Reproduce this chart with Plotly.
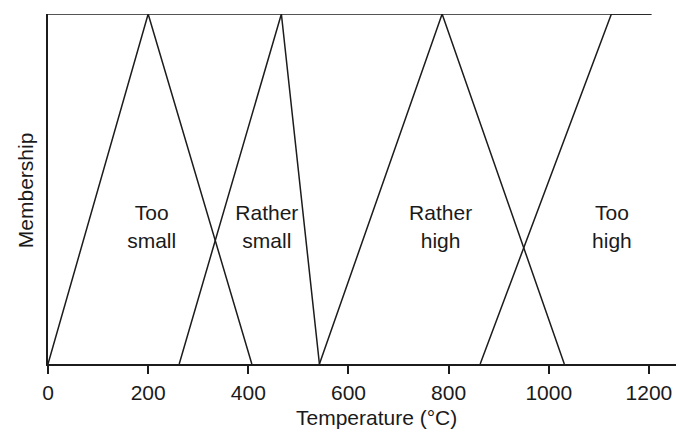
import plotly.graph_objects as go

# Membership function breakpoints (temperature, °C) and membership values
too_small_x = [0, 200, 407]
too_small_y = [0, 1, 0]
rather_small_x = [262, 466, 542]
rather_small_y = [0, 1, 0]
rather_high_x = [542, 787, 1031]
rather_high_y = [0, 1, 0]
too_high_x = [863, 1125, 1205]
too_high_y = [0, 1, 1]
top_x = [0, 1205]
top_y = [1, 1]
dash_x = [1255, 1270]
dash_y = [1, 1]

label_text = ["Too<br>small", "Rather<br>small", "Rather<br>high", "Too<br>high"]
label_x = [207, 437, 784, 1126]
label_y = [0.386, 0.386, 0.386, 0.386]

tick_vals = [0, 200, 400, 600, 800, 1000, 1200]
tick_text = ["0", "200", "400", "600", "800", "1000", "1200"]

line_col = "#1c1c1c"
txt_col = "#1a1a1a"
fig = go.Figure()
for xs, ys in [(top_x, top_y), (dash_x, dash_y), (too_small_x, too_small_y),
               (rather_small_x, rather_small_y), (rather_high_x, rather_high_y),
               (too_high_x, too_high_y)]:
    fig.add_trace(go.Scatter(x=xs, y=ys, mode="lines",
                             line=dict(color=line_col, width=1.5),
                             showlegend=False, hoverinfo="skip", cliponaxis=False))

fig.add_trace(go.Scatter(x=label_x, y=label_y, mode="text", text=label_text,
                         textfont=dict(size=21, color=txt_col, family="Liberation Sans"),
                         showlegend=False, hoverinfo="skip"))

fig.add_annotation(text="Temperature (°C)", xref="paper", yref="paper",
                   x=0.516, y=-0.114, yanchor="top", showarrow=False,
                   font=dict(size=21, family="Liberation Sans", color=txt_col))
fig.add_annotation(text="Membership", xref="paper", yref="paper",
                   x=-0.036, y=0.497, xanchor="center", yanchor="middle", textangle=-90,
                   showarrow=False,
                   font=dict(size=21, family="Liberation Sans", color=txt_col))

# page has an 8px body margin: figure is 676x426 so the window shows it whole
fig.update_layout(
    width=676, height=426,
    margin=dict(l=40, r=0, t=6, b=70, autoexpand=False),
    paper_bgcolor="white", plot_bgcolor="white",
    font=dict(family="Liberation Sans", color=txt_col, size=21),
    xaxis=dict(range=[0, 1270], tickvals=tick_vals, ticktext=tick_text,
               showgrid=False, zeroline=False, showline=True, linecolor=line_col,
               linewidth=2, ticks="outside", ticklen=8, tickwidth=1.5, tickcolor=line_col,
               tickfont=dict(size=21), ticklabelstandoff=1, automargin=False),
    yaxis=dict(range=[0, 1], showticklabels=False, showgrid=False,
               zeroline=False, showline=True, linecolor=line_col, linewidth=2,
               ticks="", automargin=False),
)

fig.write_html("out.html")
